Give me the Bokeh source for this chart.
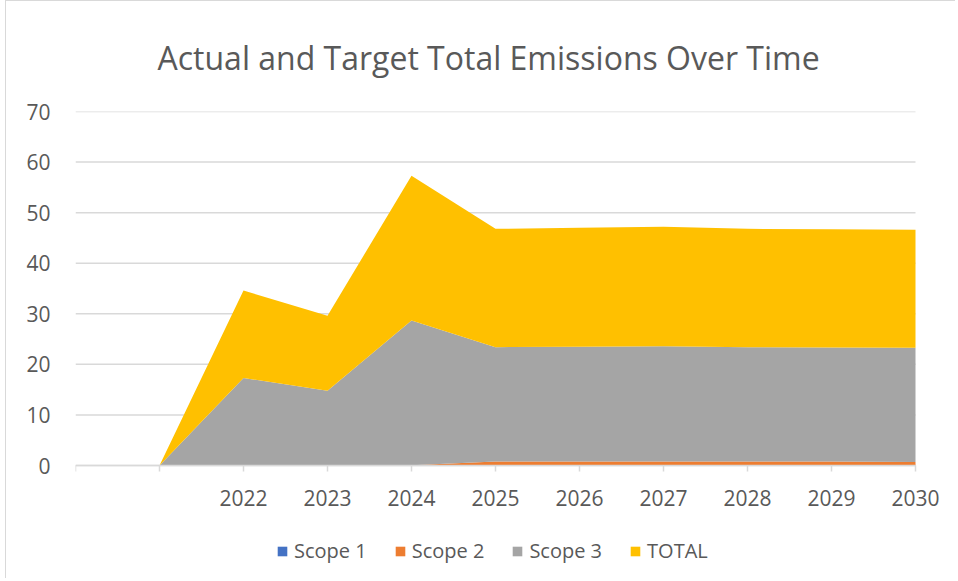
from bokeh.plotting import figure
from bokeh.models import ColumnDataSource, Range1d, FixedTicker, Legend, LegendItem
from bokeh.embed import file_html
from bokeh.resources import INLINE

categories = ["", "", "2022", "2023", "2024", "2025", "2026", "2027", "2028", "2029", "2030"]
scope1 = [None, 0, 0, 0, 0, 0, 0, 0, 0, 0, 0]
scope2 = [None, 0, 0, 0, 0.05, 0.8, 0.8, 0.8, 0.8, 0.8, 0.7]
scope3 = [None, 0, 17.3, 14.8, 28.6, 22.6, 22.7, 22.8, 22.6, 22.55, 22.6]
total = [None, 0, 17.3, 14.8, 28.65, 23.4, 23.5, 23.6, 23.4, 23.35, 23.3]
y_ticks = [0, 10, 20, 30, 40, 50, 60, 70]

series_names = ["Scope 1", "Scope 2", "Scope 3", "TOTAL"]
series_colors = ["#4472C4", "#ED7D31", "#A5A5A5", "#FFC000"]

rows = [i for i in range(len(categories)) if scope1[i] is not None]
src = ColumnDataSource(dict(
    x=rows,
    s1=[scope1[i] for i in rows],
    s2=[scope2[i] for i in rows],
    s3=[scope3[i] for i in rows],
    tot=[total[i] for i in rows],
))

FONT = "Open Sans"
TXT = "#595959"
GRID = "#D9D9D9"

# value axis 0..70 spans 354 px; frame extends below it (legend) and to the right (last label)
Y_MAX = 70
PLOT_PX = 354
FRAME_PX = 467
Y_MIN = -Y_MAX * (FRAME_PX - PLOT_PX) / PLOT_PX
X_LAST = len(categories) - 1
PLOT_W = 840
EXTRA_W = 35
X_MAX = X_LAST + X_LAST * EXTRA_W / PLOT_W

p = figure(frame_width=PLOT_W + EXTRA_W, frame_height=FRAME_PX, output_backend="svg",
           toolbar_location=None,
           x_range=Range1d(0, X_MAX), y_range=Range1d(Y_MIN, Y_MAX),
           min_border_left=69, min_border_right=5, min_border_top=110, min_border_bottom=0)
p.margin = (0, 0, 0, 5)
p.styles = {"border-left": "1px solid #D9D9D9", "border-top": "1px solid #D9D9D9"}

# horizontal gridlines limited to the category span
p.segment(x0=0, x1=X_LAST, y0=y_ticks, y1=y_ticks, line_color=GRID, line_width=1.5)

renderers = p.varea_stack(["s1", "s2", "s3", "tot"], x="x", source=src, color=series_colors)

legend = Legend(items=[LegendItem(label=n, renderers=[r]) for n, r in zip(series_names, renderers)],
                orientation="horizontal", location=(201, 14),
                label_text_font=FONT, label_text_font_size="20px", label_text_color=TXT,
                glyph_width=12, glyph_height=12, label_standoff=6, spacing=27,
                border_line_color=None, background_fill_alpha=0, margin=0, padding=0)
p.add_layout(legend)

p.title.text = "Actual and Target Total Emissions Over Time"
p.title.align = "left"
p.title.offset = 82
p.title.text_font = FONT
p.title.text_font_size = "32px"
p.title.text_font_style = "normal"
p.title.text_color = TXT
p.title.standoff = 65

p.outline_line_color = None
p.background_fill_color = "white"
p.border_fill_color = "white"

p.xgrid.grid_line_color = None
p.ygrid.grid_line_color = None

xa = p.xaxis[0]
xa.fixed_location = 0
xa.bounds = (0, X_LAST)
xa.ticker = FixedTicker(ticks=list(range(len(categories))))
xa.major_label_overrides = {i: c for i, c in enumerate(categories)}
xa.axis_line_color = GRID
xa.axis_line_width = 1.5
xa.major_tick_line_color = GRID
xa.major_tick_line_width = 1.5
xa.major_tick_out = 6
xa.major_tick_in = 0
xa.minor_tick_line_color = None
xa.major_label_text_font = FONT
xa.major_label_text_font_size = "21px"
xa.major_label_text_color = TXT
xa.major_label_standoff = 18

ya = p.yaxis[0]
ya.ticker = FixedTicker(ticks=y_ticks)
ya.axis_line_color = None
ya.major_tick_line_color = None
ya.minor_tick_line_color = None
ya.major_label_text_font = FONT
ya.major_label_text_font_size = "21px"
ya.major_label_text_color = TXT
ya.major_label_standoff = 19

open("out.html", "w").write(file_html(p, INLINE))
